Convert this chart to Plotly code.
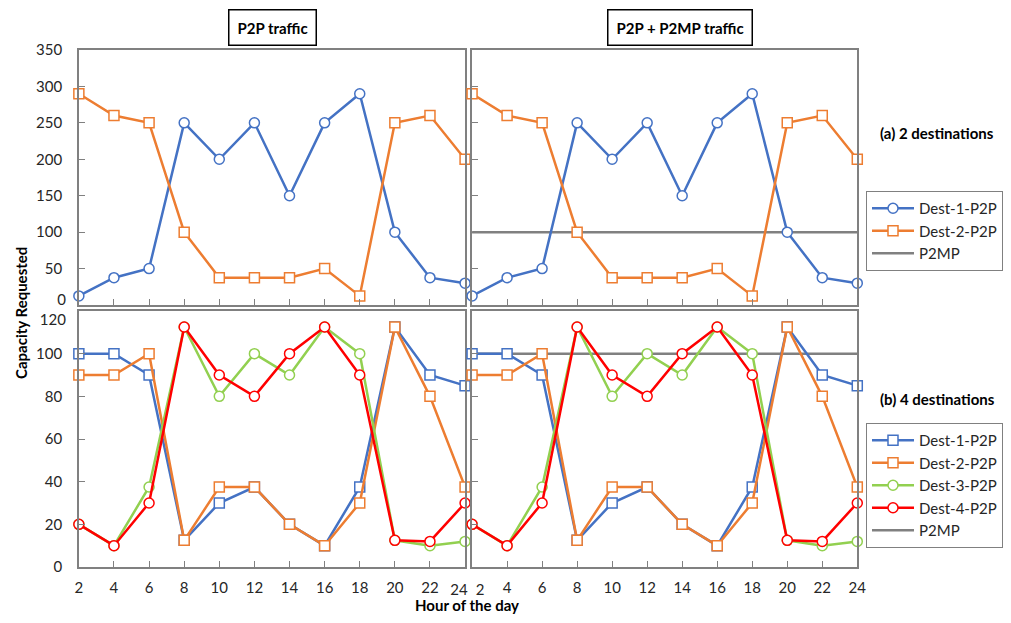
import plotly.graph_objects as go

hours = [2, 4, 6, 8, 10, 12, 14, 16, 18, 20, 22, 24]
x_ticks = hours

# (a) 2 destinations
a_dest1 = [12.5, 37.5, 50, 250, 200, 250, 150, 250, 290, 100, 37.5, 30]
a_dest2 = [290, 260, 250, 100, 37.5, 37.5, 37.5, 50, 12.5, 250, 260, 200]
a_p2mp = [100] * 12
a_yticks = [0, 50, 100, 150, 200, 250, 300, 350]

# (b) 4 destinations
b_dest1 = [100, 100, 90, 12.5, 30, 37.5, 20, 10, 37.5, 112.5, 90, 85]
b_dest2 = [90, 90, 100, 12.5, 37.5, 37.5, 20, 10, 30, 112.5, 80, 37.5]
b_dest3 = [20, 10, 37.5, 112.5, 80, 100, 90, 112.5, 100, 12.5, 10, 12]
b_dest4 = [20, 10, 30, 112.5, 90, 80, 100, 112.5, 90, 12.5, 12, 30]
b_p2mp = [100] * 12
b_yticks = [0, 20, 40, 60, 80, 100, 120]

BLUE = "#4472C4"
ORANGE = "#ED7D31"
GREEN = "#92D050"
RED = "#FF0000"
GRAY = "#808080"
FONT = "Lato"
TXT = "#262626"

# the page body has an 8px margin; size the figure so it fills the window
PAGE_W, PAGE_H, OFF = 1011, 623, 8
W, H = PAGE_W - 2 * OFF, PAGE_H - 2 * OFF
fig = go.Figure()


def fx(x):
    return (x - OFF) / W


def fy(y):
    return 1 - (y - OFF) / H


def px_x(a, b):
    return [fx(a), fx(b)]


def px_y(top, bottom):
    return [fy(bottom), fy(top)]


def add_series(xa, ya, y, name, color, symbol, legend, show):
    fig.add_trace(go.Scatter(
        x=hours, y=y, name=name, mode="lines+markers",
        line=dict(color=color, width=2.5),
        marker=dict(symbol=symbol, size=10, color="white",
                    line=dict(color=color, width=1.5)),
        cliponaxis=False,
        xaxis=xa, yaxis=ya, legend=legend, showlegend=show))


def add_p2mp(xa, ya, y, legend):
    fig.add_trace(go.Scatter(
        x=hours, y=y, name="P2MP", mode="lines",
        line=dict(color=GRAY, width=2.5),
        xaxis=xa, yaxis=ya, legend=legend, showlegend=True, legendrank=2000))


def add_empty(xa, ya):
    fig.add_trace(go.Scatter(x=[], y=[], xaxis=xa, yaxis=ya, showlegend=False,
                             hoverinfo="skip"))


# top-left
add_series("x", "y", a_dest1, "Dest-1-P2P", BLUE, "circle", "legend", False)
add_series("x", "y", a_dest2, "Dest-2-P2P", ORANGE, "square", "legend", False)
# top-right
add_p2mp("x2", "y2", a_p2mp, "legend")
add_series("x2", "y2", a_dest1, "Dest-1-P2P", BLUE, "circle", "legend", True)
add_series("x2", "y2", a_dest2, "Dest-2-P2P", ORANGE, "square", "legend", True)
# bottom-left
add_series("x3", "y3", b_dest1, "Dest-1-P2P", BLUE, "square", "legend2", False)
add_series("x3", "y3", b_dest2, "Dest-2-P2P", ORANGE, "square", "legend2", False)
add_series("x3", "y3", b_dest3, "Dest-3-P2P", GREEN, "circle", "legend2", False)
add_series("x3", "y3", b_dest4, "Dest-4-P2P", RED, "circle", "legend2", False)
# bottom-right
add_p2mp("x4", "y4", b_p2mp, "legend2")
add_series("x4", "y4", b_dest1, "Dest-1-P2P", BLUE, "square", "legend2", True)
add_series("x4", "y4", b_dest2, "Dest-2-P2P", ORANGE, "square", "legend2", True)
add_series("x4", "y4", b_dest3, "Dest-3-P2P", GREEN, "circle", "legend2", True)
add_series("x4", "y4", b_dest4, "Dest-4-P2P", RED, "circle", "legend2", True)

# helper subplots carrying the shifted end labels
add_empty("x5", "y3")
add_empty("x6", "y4")
add_empty("x", "y5")
add_empty("x3", "y6")

axis_common = dict(showline=True, linecolor=GRAY, linewidth=1.5, mirror=True,
                   ticks="inside", ticklen=6, tickcolor=GRAY, tickwidth=1.2,
                   showgrid=False, zeroline=False, automargin=False,
                   tickfont=dict(family=FONT, size=15, color=TXT))
label_only = dict(showline=False, ticks="", showgrid=False, zeroline=False,
                  automargin=False, tickfont=dict(family=FONT, size=15, color=TXT))

xdom_l = px_x(79, 466)
xdom_r = px_x(473, 859)
ydom_t = px_y(50, 305)
ydom_b = px_y(311, 567)
YSTAND = 12
XSTAND = 6


def labels(vals, hide):
    return ["" if v in hide else str(v) for v in vals]


xcommon = dict(axis_common, range=[2, 24], tickvals=x_ticks)
fig.update_layout(
    xaxis=dict(xcommon, domain=xdom_l, anchor="y", showticklabels=False),
    yaxis=dict(axis_common, domain=ydom_t, anchor="x", range=[0, 350],
               tickvals=a_yticks, ticktext=labels(a_yticks, [0]),
               ticklabelstandoff=YSTAND),
    xaxis2=dict(xcommon, domain=xdom_r, anchor="y2", showticklabels=False),
    yaxis2=dict(axis_common, domain=ydom_t, anchor="x2", range=[0, 350],
                tickvals=a_yticks, showticklabels=False),
    xaxis3=dict(xcommon, domain=xdom_l, anchor="y3", ticklabelstandoff=XSTAND,
                ticktext=labels(x_ticks, [24])),
    yaxis3=dict(axis_common, domain=ydom_b, anchor="x3", range=[0, 120],
                tickvals=b_yticks, ticktext=labels(b_yticks, [120]),
                ticklabelstandoff=YSTAND),
    xaxis4=dict(xcommon, domain=xdom_r, anchor="y4", ticklabelstandoff=XSTAND,
                ticktext=labels(x_ticks, [2])),
    yaxis4=dict(axis_common, domain=ydom_b, anchor="x4", range=[0, 120],
                tickvals=b_yticks, showticklabels=False),
    # shifted end labels
    xaxis5=dict(label_only, domain=xdom_l, anchor="y3", overlaying="x3",
                range=[2, 24], tickvals=[24], ticktext=["24"],
                ticklabelstandoff=XSTAND + 6, ticklabelshift=-6),
    xaxis6=dict(label_only, domain=xdom_r, anchor="y4", overlaying="x4",
                range=[2, 24], tickvals=[2], ticktext=["2"],
                ticklabelstandoff=XSTAND + 6, ticklabelshift=8),
    yaxis5=dict(label_only, domain=ydom_t, anchor="x", overlaying="y",
                range=[0, 350], tickvals=[0], ticktext=["0"],
                ticklabelstandoff=YSTAND, ticklabelshift=-5),
    yaxis6=dict(label_only, domain=ydom_b, anchor="x3", overlaying="y3",
                range=[0, 120], tickvals=[120], ticktext=["120"],
                ticklabelstandoff=YSTAND, ticklabelshift=9),
)

legend_common = dict(bgcolor="white", bordercolor=GRAY, borderwidth=1,
                     font=dict(family=FONT, size=15, color=TXT),
                     xanchor="left", yanchor="top", tracegroupgap=0,
                     itemwidth=42, traceorder="normal")
fig.update_layout(
    legend=dict(legend_common, x=fx(868), y=fy(191)),
    legend2=dict(legend_common, x=fx(868), y=fy(423)),
)

annotations = [
    dict(text="<b>P2P traffic</b>", x=fx(273), y=fy(28), showarrow=False,
         font=dict(family=FONT, size=15, color="black"), bordercolor="black",
         borderwidth=1.5, borderpad=8, bgcolor="white"),
    dict(text="<b>P2P + P2MP traffic</b>", x=fx(681), y=fy(28), showarrow=False,
         font=dict(family=FONT, size=15, color="black"), bordercolor="black",
         borderwidth=1.5, borderpad=8, bgcolor="white"),
    dict(text="<b>(a) 2 destinations</b>", x=fx(939), y=fy(133), showarrow=False,
         font=dict(family=FONT, size=15, color="black")),
    dict(text="<b>(b) 4 destinations</b>", x=fx(939), y=fy(399), showarrow=False,
         font=dict(family=FONT, size=15, color="black")),
    dict(text="<b>Capacity Requested</b>", x=fx(21), y=fy(313), showarrow=False,
         textangle=-90, font=dict(family=FONT, size=15, color="black")),
    dict(text="<b>Hour of the day</b>", x=fx(468), y=fy(605), showarrow=False,
         font=dict(family=FONT, size=15, color="black"), borderpad=0),
]
for a in annotations:
    a.update(xref="paper", yref="paper", xanchor="center", yanchor="middle")

fig.update_layout(
    width=W, height=H, margin=dict(l=0, r=0, t=0, b=0),
    paper_bgcolor="white", plot_bgcolor="white",
    annotations=annotations,
)

fig.write_html("out.html")
